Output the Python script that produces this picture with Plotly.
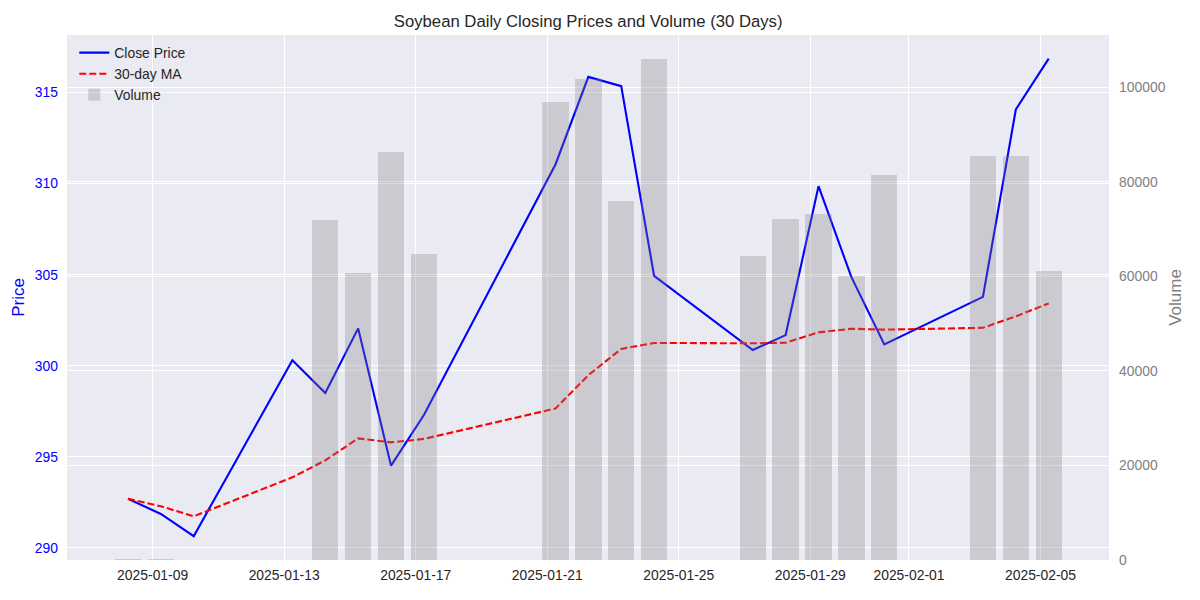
import plotly.graph_objects as go

# trading days (timestamps carry a time of day, as in the original data)
dates = ["2025-01-08 06:00", "2025-01-09 06:00", "2025-01-10 06:00", "2025-01-13 06:00",
         "2025-01-14 06:00", "2025-01-15 06:00", "2025-01-16 06:00", "2025-01-17 06:00",
         "2025-01-21 06:00", "2025-01-22 06:00", "2025-01-23 06:00", "2025-01-24 06:00",
         "2025-01-27 06:00", "2025-01-28 06:00", "2025-01-29 06:00", "2025-01-30 06:00",
         "2025-01-31 06:00", "2025-02-03 06:00", "2025-02-04 06:00", "2025-02-05 06:00"]

close_price = [292.69, 291.86, 290.64, 300.30, 298.50, 302.05, 294.51, 297.29,
               311.05, 315.86, 315.35, 304.93, 300.86, 301.68, 309.86, 304.86,
               301.17, 303.78, 314.07, 316.86]

ma_30 = [292.69, 292.28, 291.73, 293.87, 294.80, 296.01, 295.79, 295.98,
         297.65, 299.48, 300.92, 301.25, 301.23, 301.26, 301.83, 302.03,
         301.98, 302.08, 302.71, 303.42]

volume = [250, 250, 0, 0, 71900, 60700, 86300, 64700,
          96800, 101700, 75900, 105900, 64300, 72100, 73150, 60000,
          81450, 85400, 85400, 61100]

x_ticks = ["2025-01-09", "2025-01-13", "2025-01-17", "2025-01-21",
           "2025-01-25", "2025-01-29", "2025-02-01", "2025-02-05"]

font = "Liberation Sans, Arial, sans-serif"

fig = go.Figure()
fig.add_trace(go.Scatter(x=dates, y=close_price, mode="lines", name="Close Price",
                         line=dict(color="blue", width=2.1)))
fig.add_trace(go.Scatter(x=dates, y=ma_30, mode="lines", name="30-day MA",
                         line=dict(color="red", width=2.1, dash="7px,3px")))
fig.add_trace(go.Bar(x=dates, y=volume, name="Volume", yaxis="y2",
                     width=0.8 * 86400000,
                     marker=dict(color="rgba(128,128,128,0.3)", line=dict(width=0))))

# page body has an 8px margin, so the figure is a bit smaller and shifted
fig.update_layout(
    width=1184, height=584,
    margin=dict(l=59, r=83, t=27, b=31.5),
    paper_bgcolor="white",
    plot_bgcolor="#EAEAF2",
    font=dict(family=font, size=13.9, color="#262626"),
    title=dict(text="Soybean Daily Closing Prices and Volume (30 Days)",
               x=0.49, xanchor="center", y=0.978, yanchor="middle",
               font=dict(size=16.7, color="#262626")),
    showlegend=True,
    legend=dict(x=0.007, y=0.996, xanchor="left", yanchor="top",
                bgcolor="rgba(0,0,0,0)", font=dict(size=13.9, color="#262626"),
                tracegroupgap=0),
    xaxis=dict(type="date",
               range=["2025-01-06 09:30", "2025-02-07 02:00"],
               tickvals=x_ticks, ticktext=x_ticks,
               showgrid=True, gridcolor="white", gridwidth=1.3,
               zeroline=False, showline=False, ticks="", automargin=False,
               tickfont=dict(color="#262626"), ticklabelstandoff=5),
    yaxis=dict(title=dict(text="Price", font=dict(color="blue"), standoff=5),
               range=[289.33, 318.16], dtick=5, tick0=290,
               showgrid=True, gridcolor="white", gridwidth=1.3,
               zeroline=False, showline=False, ticks="", automargin=False,
               tickfont=dict(color="blue"), ticklabelstandoff=8),
    yaxis2=dict(title=dict(text="Volume", font=dict(color="gray"), standoff=4),
                overlaying="y", side="right",
                range=[0, 111040], tickvals=[0, 20000, 40000, 60000, 80000, 100000],
                tickformat="d",
                showgrid=True, gridcolor="white", gridwidth=1.3,
                zeroline=False, showline=False, ticks="", automargin=False,
                tickfont=dict(color="gray"), ticklabelstandoff=9),
    bargap=0,
)

fig.write_html("out.html")
